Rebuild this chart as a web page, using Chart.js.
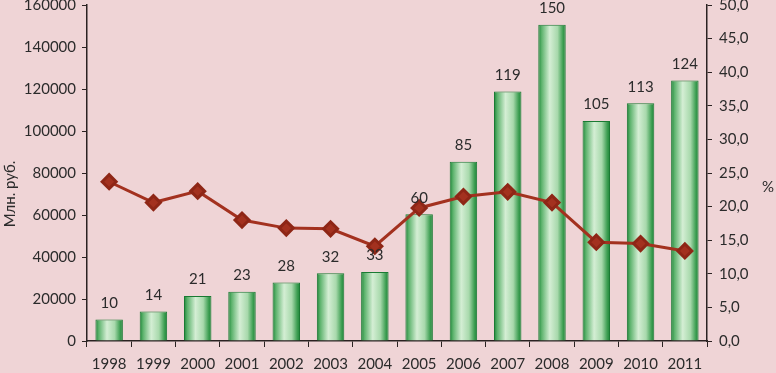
<!DOCTYPE html>
<html>
<head>
<meta charset="utf-8">
<script src="https://cdn.jsdelivr.net/npm/chart.js@4/dist/chart.umd.min.js"></script>
<style>
  html, body { margin: 0; padding: 0; background: #efd4d6; }
  #wrap { width: 776px; height: 373px; }
</style>
</head>
<body>
<div id="wrap"><canvas id="chart"></canvas></div>
<script>
const years = ['1998', '1999', '2000', '2001', '2002', '2003', '2004', '2005', '2006', '2007', '2008', '2009', '2010', '2011'];
// объём, млн. руб.
const volume = [10200, 14100, 21400, 23400, 27800, 32300, 32800, 60400, 85300, 118800, 150600, 104800, 113200, 124100];
// подписи над столбцами (млрд. руб.)
const volumeLabels = ['10', '14', '21', '23', '28', '32', '33', '60', '85', '119', '150', '105', '113', '124'];
// доля, %
const share = [23.7, 20.6, 22.3, 18.0, 16.8, 16.7, 14.1, 19.8, 21.5, 22.2, 20.6, 14.7, 14.5, 13.4];

const fontFamily = 'Lato, "Open Sans", sans-serif';
const textColor = '#2b2b2b';
const axisColor = '#2b2222';

function barGradient(ctx) {
    const chart = ctx.chart;
    const el = chart.getDatasetMeta(ctx.datasetIndex).data[ctx.dataIndex];
    if (!el || el.width === undefined || isNaN(el.x)) return '#7cc48a';
    const x0 = el.x - el.width / 2, x1 = el.x + el.width / 2;
    const g = chart.ctx.createLinearGradient(x0, 0, x1, 0);
    g.addColorStop(0, '#1c8438');
    g.addColorStop(0.12, '#5cb26c');
    g.addColorStop(0.42, '#d4eed4');
    g.addColorStop(0.7, '#a8d9ac');
    g.addColorStop(0.9, '#3d9e52');
    g.addColorStop(1, '#1c8438');
    return g;
}

const barLabels = {
    id: 'barLabels',
    afterDatasetsDraw(chart) {
        const meta = chart.getDatasetMeta(1);
        const c = chart.ctx;
        c.save();
        c.font = '15px ' + fontFamily;
        c.fillStyle = textColor;
        c.textAlign = 'center';
        c.textBaseline = 'bottom';
        meta.data.forEach((bar, i) => {
            c.fillText(volumeLabels[i], bar.x, bar.y - 9);
        });
        // подписи осей
        const y1 = chart.scales.y1;
        c.textBaseline = 'middle';
        c.fillText('%', 768, (y1.top + y1.bottom) / 2 + 14);
        c.translate(10, 194);
        c.rotate(-Math.PI / 2);
        c.fillText('Млн. руб.', 0, 0);
        c.restore();
    }
};

function noVertPadding(scale) {
    scale.paddingTop = 0;
    scale.paddingBottom = 0;
}

const ctx = document.getElementById('chart').getContext('2d');

const chart = new Chart(ctx, {
    data: {
        labels: years,
        datasets: [
            {
                type: 'line',
                label: '%',
                data: share,
                yAxisID: 'y1',
                borderColor: '#a3311f',
                backgroundColor: '#a3311f',
                borderWidth: 3,
                pointStyle: 'rectRot',
                pointRadius: 7,
                pointBorderColor: '#8e2616',
                pointBackgroundColor: '#a3311f',
                tension: 0,
                order: 0
            },
            {
                type: 'bar',
                label: 'Млн. руб.',
                data: volume,
                yAxisID: 'y',
                backgroundColor: barGradient,
                borderColor: '#1a7a33',
                borderWidth: 1,
                categoryPercentage: 1,
                barPercentage: 0.62,
                order: 1
            }
        ]
    },
    options: {
        responsive: true,
        maintainAspectRatio: false,
        animation: false,
        layout: { autoPadding: false, padding: { top: 5, left: 0, right: 0, bottom: 0 } },
        plugins: {
            legend: { display: false },
            tooltip: { enabled: false }
        },
        scales: {
            x: {
                offset: true,
                grid: {
                    offset: true,
                    drawOnChartArea: false,
                    drawTicks: true,
                    tickLength: 6,
                    color: axisColor
                },
                border: { color: axisColor, width: 1.5 },
                ticks: {
                    color: textColor,
                    font: { family: fontFamily, size: 15 },
                    padding: 8,
                    maxRotation: 0
                },
                afterFit(scale) { scale.height = 32; }
            },
            y: {
                position: 'left',
                min: 0,
                max: 160000,
                ticks: {
                    stepSize: 20000,
                    color: textColor,
                    font: { family: fontFamily, size: 15 },
                    padding: 6,
                    callback: v => String(v)
                },
                grid: {
                    drawOnChartArea: false,
                    tickLength: 5,
                    color: axisColor
                },
                border: { color: axisColor, width: 1.5 },
                afterFit(scale) { scale.width = 87; noVertPadding(scale); }
            },
            y1: {
                position: 'right',
                min: 0,
                max: 50,
                ticks: {
                    stepSize: 5,
                    color: textColor,
                    font: { family: fontFamily, size: 15 },
                    padding: 7,
                    callback: v => v.toFixed(1).replace('.', ',')
                },
                grid: {
                    drawOnChartArea: false,
                    tickLength: 5,
                    color: axisColor
                },
                border: { color: axisColor, width: 1.5 },
                afterFit(scale) { scale.width = 69; noVertPadding(scale); }
            }
        }
    },
    plugins: [barLabels]
});

// второй проход, чтобы градиент столбцов знал их координаты
chart.update();
</script>
</body>
</html>
